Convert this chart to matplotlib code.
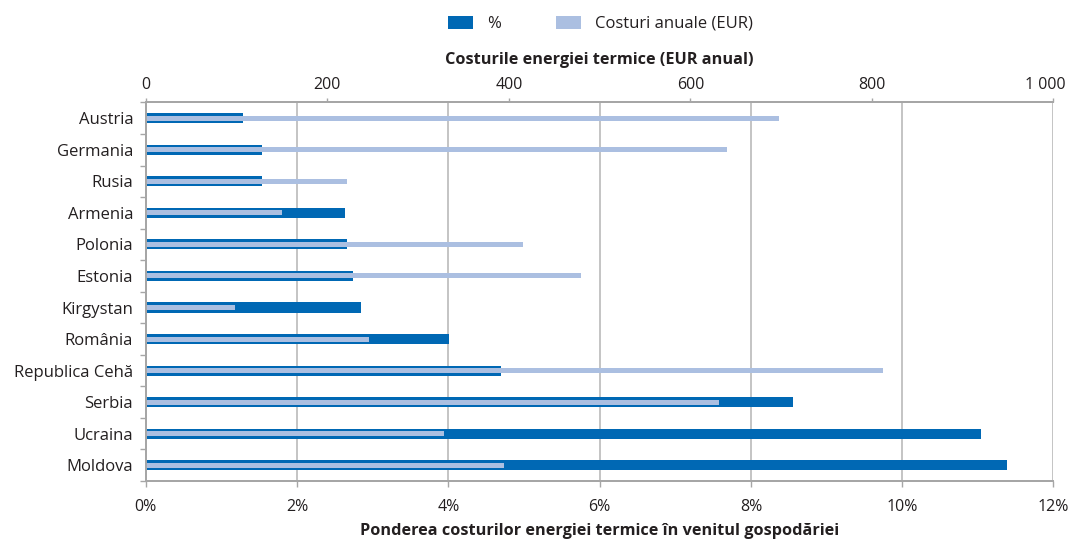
import matplotlib
matplotlib.use("Agg")
import matplotlib.pyplot as plt
import matplotlib.transforms as mtransforms
from matplotlib.patches import Patch
import numpy as np

plt.rcParams['font.family'] = ['Open Sans', 'DejaVu Sans']

countries = ["Austria", "Germania", "Rusia", "Armenia", "Polonia", "Estonia",
             "Kirgystan", "România", "Republica Cehă", "Serbia", "Ucraina", "Moldova"]
share_pct = [1.29, 1.54, 1.54, 2.64, 2.66, 2.74, 2.85, 4.01, 4.70, 8.56, 11.04, 11.39]
annual_eur = [698, 640, 222, 150, 416, 480, 98, 246, 812, 632, 329, 395]
pct_ticks = [0, 2, 4, 6, 8, 10, 12]
eur_ticks = [0, 200, 400, 600, 800, 1000]
eur_labels = ["0", "200", "400", "600", "800", "1 000"]

dark = "#0068b4"
light = "#abbfe1"
grid_c = "#bfbfbf"
spine_c = "#a6a6a6"
text_c = "#231f20"

fig = plt.figure(figsize=(10.69, 5.40), dpi=100)
ax = fig.add_axes([0.1363, 0.1093, 0.9855 - 0.1363, 0.8102 - 0.1093])
ax2 = ax.twiny()

y = np.arange(len(countries))
ax.barh(y, share_pct, height=0.32, color=dark, zorder=2)
ax2.barh(y, annual_eur, height=0.16, color=light, zorder=2)

ax.set_xlim(0, 12)
ax2.set_xlim(0, 1000)
ax.set_ylim(len(countries) - 0.5, -0.5)

# bottom axis: share of household income
ax.set_xticks(pct_ticks)
ax.set_xticklabels([f"{v}%" for v in pct_ticks])
ax.grid(axis="x", color=grid_c, linewidth=1.3, zorder=0)
ax.set_axisbelow(True)
ax.tick_params(axis="x", direction="out", length=4, width=1, color=spine_c,
               labelsize=11.5, labelcolor=text_c, pad=9)
ax.set_xlabel("Ponderea costurilor energiei termice în venitul gospodăriei",
              fontsize=11.7, fontweight="bold", color=text_c, labelpad=6)

# category axis
ax.set_yticks(y)
ax.set_yticklabels(countries)
ax.set_yticks(np.arange(-0.5, len(countries), 1), minor=True)
ax.tick_params(axis="y", which="major", length=0, labelsize=12,
               labelcolor=text_c, pad=9)
ax.tick_params(axis="y", which="minor", direction="out", length=4,
               width=1, color=spine_c)

# top axis: annual cost in EUR
ax2.set_xticks(eur_ticks)
ax2.set_xticklabels(eur_labels)
ax2.tick_params(axis="x", direction="out", length=3, width=1, color=spine_c,
                labelsize=11.5, labelcolor=text_c, pad=4)
ax2.set_xlabel("Costurile energiei termice (EUR anual)", fontsize=11.7,
               fontweight="bold", color=text_c, labelpad=9)
last = ax2.get_xticklabels()[-1]
last.set_transform(last.get_transform() +
                   mtransforms.ScaledTranslation(-8 / 100, 0, fig.dpi_scale_trans))

for a in (ax, ax2):
    for side in ("left", "bottom", "top"):
        a.spines[side].set_color(spine_c)
        a.spines[side].set_linewidth(1.3)
    a.spines["right"].set_visible(False)

handles = [Patch(facecolor=dark, edgecolor="none", label="%"),
           Patch(facecolor=light, edgecolor="none", label="Costuri anuale (EUR)")]
leg = fig.legend(handles=handles, loc="center", bbox_to_anchor=(0.562, 0.956),
                 ncol=2, frameon=False, fontsize=12, handlelength=1.5,
                 handleheight=0.85, handletextpad=0.85, columnspacing=3.3)
for t in leg.get_texts():
    t.set_color(text_c)

fig.savefig("out.png", dpi=100)
